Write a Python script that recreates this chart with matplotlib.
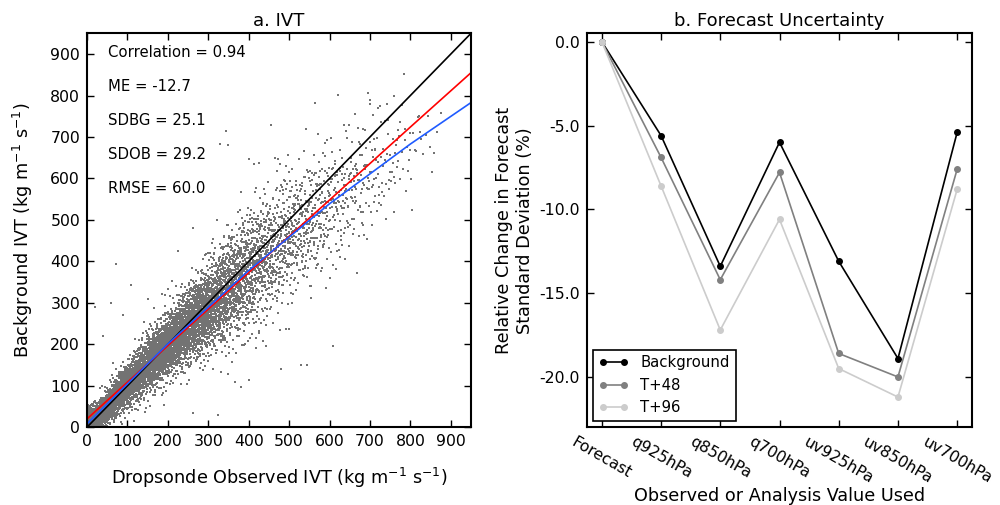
import numpy as np
import matplotlib
matplotlib.use('Agg')
import matplotlib.pyplot as plt
from matplotlib.ticker import FormatStrFormatter

plt.rcParams['axes.unicode_minus'] = False
plt.rcParams['font.family'] = 'DejaVu Sans'
plt.rcParams['mathtext.fontset'] = 'dejavusans'

# --- panel a: scatter cloud in 50-wide bins of observed IVT ---
obs_bin_lo = [0, 50, 100, 150, 200, 250, 300, 350, 400, 450, 500, 550, 600, 650, 700, 750, 800, 850]
bin_count = [850, 760, 830, 950, 950, 850, 700, 520, 360, 260, 185, 135, 100, 70, 45, 28, 14, 4]
bg_mean = [23, 75, 126, 175, 222, 266, 310, 355, 400, 440, 478, 515, 552, 590, 625, 655, 690, 720]
bg_sd = [14, 22, 28, 33, 38, 44, 52, 62, 70, 72, 74, 75, 75, 72, 70, 65, 55, 45]

# a few stray points that sit well away from the cloud
outlier_obs = [71, 110, 60, 90, 40, 20, 150, 345, 328, 349, 262, 760, 400, 480, 545, 390, 700, 720]
outlier_bg = [393, 342, 300, 270, 220, 290, 310, 715, 683, 680, 481, 800, 115, 140, 150, 200, 790, 770]

# fit lines (red: linear, blue: curved fit)
fit_x = [0, 200, 400, 600, 800, 950]
red_fit = [20, 197, 373, 548, 724, 855]
blue_fit = [8, 201, 378, 539, 683, 783]

stats = ['Correlation = 0.94', 'ME = -12.7', 'SDBG = 25.1', 'SDOB = 29.2', 'RMSE = 60.0']

# --- panel b ---
experiments = ['Forecast', 'q925hPa', 'q850hPa', 'q700hPa', 'uv925hPa', 'uv850hPa', 'uv700hPa']
background = [0.0, -5.6, -13.4, -6.0, -13.1, -18.9, -5.4]
t48 = [0.0, -6.9, -14.2, -7.8, -18.6, -20.0, -7.6]
t96 = [0.0, -8.6, -17.2, -10.6, -19.5, -21.2, -8.8]


def halton(n, base):
    out = np.zeros(n)
    for k in range(n):
        i = k + 1
        f = 1.0
        r = 0.0
        while i > 0:
            f /= base
            r += f * (i % base)
            i //= base
        out[k] = r
    return out


# spread the points with a low-discrepancy sequence, following the binned density
centers = np.array(obs_bin_lo) + 25
ntot = sum(bin_count)
xg = np.arange(0, 901, 1.0)
dens = np.interp(xg, centers, bin_count)
cdf = np.cumsum(dens)
cdf = (cdf - cdf[0]) / (cdf[-1] - cdf[0])
u1 = halton(ntot, 2)
u2 = halton(ntot, 3)
u3 = halton(ntot, 5)
u4 = halton(ntot, 7)
z = np.sqrt(-2 * np.log(u2)) * np.cos(2 * np.pi * u3)
z = np.where(u4 < 0.06, 1.8 * z, z)
xs = np.interp(u1, cdf, xg)
ys = np.interp(xs, centers, bg_mean) + np.interp(xs, centers, bg_sd) * z
xs = np.concatenate([xs, outlier_obs])
ys = np.concatenate([ys, outlier_bg])

fig = plt.figure(figsize=(10, 5.05), dpi=100)
ax1 = fig.add_axes([0.087, 0.154, 0.384, 0.780])
ax2 = fig.add_axes([0.587, 0.154, 0.385, 0.780])

for ax in (ax1, ax2):
    for s in ax.spines.values():
        s.set_linewidth(1.5)
    ax.tick_params(direction='in', length=5, width=1, top=True, right=True, labelsize=11.3, pad=5)

ax1.scatter(xs, ys, s=0.55, marker='s', color='0.45', linewidths=0)
ax1.plot([0, 950], [0, 950], color='k', lw=1.2)
ax1.plot(fit_x, red_fit, color='#ff0000', lw=1.2)
ax1.plot(fit_x, blue_fit, color='#1f5bff', lw=1.2)
ax1.set_xlim(0, 950)
ax1.set_ylim(0, 950)
ax1.set_xticks(np.arange(0, 901, 100))
ax1.set_yticks(np.arange(0, 901, 100))
ax1.set_xlabel(r'Dropsonde Observed IVT (kg m$^{-1}$ s$^{-1}$)', fontsize=12.7)
ax1.set_ylabel(r'Background IVT (kg m$^{-1}$ s$^{-1}$)', fontsize=12.7)
ax1.xaxis.set_label_coords(0.5, -0.097)
ax1.yaxis.set_label_coords(-0.135, 0.5)
ax1.set_title('a. IVT', fontsize=13, pad=5)
for i, t in enumerate(stats):
    ax1.text(0.055, 0.952 - i * 0.0865, t, transform=ax1.transAxes, fontsize=10.7, va='center')

xpos = np.arange(len(experiments))
ax2.plot(xpos, background, color='k', lw=1.2, marker='o', ms=4, mec='k', label='Background')
ax2.plot(xpos, t48, color='0.5', lw=1.2, marker='o', ms=4, mec='0.5', label='T+48')
ax2.plot(xpos, t96, color='0.8', lw=1.2, marker='o', ms=4, mec='0.8', label='T+96')
ax2.set_xlim(-0.25, 6.25)
ax2.set_ylim(-23.0, 0.5)
ax2.set_yticks([0, -5, -10, -15, -20])
ax2.yaxis.set_major_formatter(FormatStrFormatter('%.1f'))
ax2.set_xticks(xpos)
ax2.set_xticklabels(experiments, rotation=-30, ha='center', va='top')
ax2.set_xlabel('Observed or Analysis Value Used', fontsize=12.7)
ax2.set_ylabel('Relative Change in Forecast\nStandard Deviation (%)', fontsize=12.7)
ax2.xaxis.set_label_coords(0.5, -0.153)
ax2.yaxis.set_label_coords(-0.137, 0.5)
ax2.set_title('b. Forecast Uncertainty', fontsize=13, pad=5)
leg = ax2.legend(loc='lower left', fontsize=10.7, numpoints=2, fancybox=False, framealpha=1,
                 edgecolor='k', borderaxespad=0.4)
leg.get_frame().set_linewidth(1.2)

fig.savefig('out.png', dpi=100)
